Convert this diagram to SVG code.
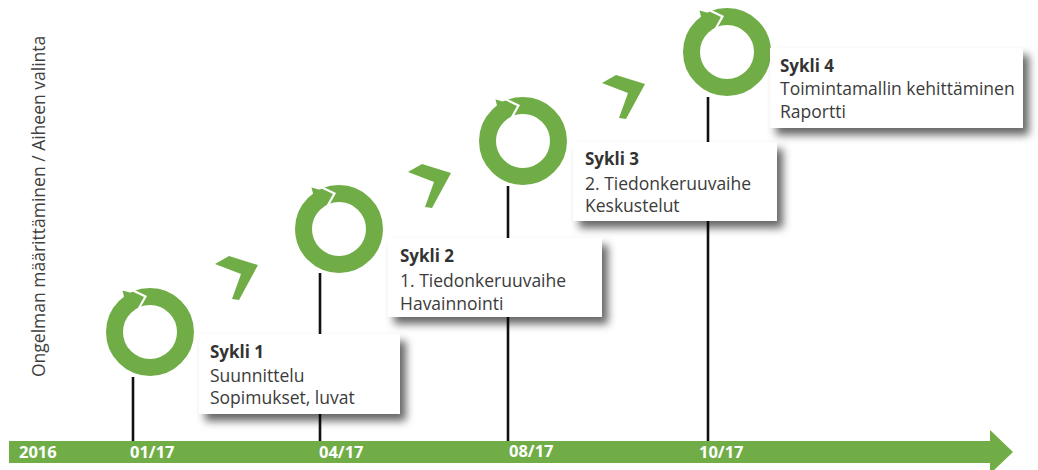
<svg xmlns="http://www.w3.org/2000/svg" xmlns:xlink="http://www.w3.org/1999/xlink" width="1038" height="470" viewBox="0 0 1038 470">
  <style>
    .green { fill: #70AD47; }
    .ring { fill: none; stroke: #70AD47; stroke-width: 17; }
    .cut { fill: none; stroke: #ffffff; stroke-width: 2.2; stroke-linejoin: miter; }
    .stem { stroke: #111111; stroke-width: 2.6; fill: none; }
    .box { fill: #ffffff; filter: url(#shadow); }
    .t { font-family: "Open Sans", "Liberation Sans", sans-serif; font-size: 17.5px; fill: #3b3b3b; }
    .tb { font-family: "Open Sans", "Liberation Sans", sans-serif; font-size: 17px; font-weight: bold; fill: #333333; }
    .bar { font-family: "Open Sans", "Liberation Sans", sans-serif; font-size: 16.5px; font-weight: bold; fill: #ffffff; }
    .side { font-family: "Open Sans", "Liberation Sans", sans-serif; font-size: 17.5px; fill: #404040; }
  </style>
  <defs>
    <filter id="shadow" x="-10%" y="-20%" width="130%" height="170%">
      <feDropShadow dx="6" dy="7" stdDeviation="4.5" flood-color="#000000" flood-opacity="0.6"/>
    </filter>
    <g id="cyc">
      <circle class="ring" cx="0" cy="0" r="35.5"/>
      <polygon class="green" points="-27.5,-41.5 -4.9,-35.2 -24.4,-29.1"/>
      <polyline class="cut" points="-19,-42.5 -4.5,-35.5 -11.5,-23"/>
    </g>
    <polygon id="chev" points="0,0 14,-8 43,1 24,36 17,35 26,10"/>
  </defs>

  <rect width="1038" height="470" fill="#ffffff"/>

  <!-- side label -->
  <text class="side" transform="translate(45,377) rotate(-90)">Ongelman määrittäminen / Aiheen valinta</text>

  <!-- connectors: stems from cycles to the timeline -->
  <g id="connectors">
    <line class="stem" x1="133" y1="377" x2="133" y2="441"/>
    <line class="stem" x1="320" y1="273" x2="320" y2="441"/>
    <line class="stem" x1="508" y1="186" x2="508" y2="441"/>
    <line class="stem" x1="708" y1="97" x2="708" y2="441"/>
  </g>

  <!-- timeline -->
  <g id="timeline">
    <polygon class="green" points="9,441 990,441 990,430 1013,452 990,474 990,463 9,463"/>
    <text class="bar" x="19" y="458">2016</text>
    <text class="bar" x="130" y="458">01/17</text>
    <text class="bar" x="319" y="458">04/17</text>
    <text class="bar" x="509" y="457">08/17</text>
    <text class="bar" x="699" y="458">10/17</text>
  </g>

  <!-- chevrons -->
  <g id="chevron1"><use xlink:href="#chev" href="#chev" class="green" transform="translate(215,264)"/></g>
  <g id="chevron2"><use xlink:href="#chev" href="#chev" class="green" transform="translate(408,172)"/></g>
  <g id="chevron3"><use xlink:href="#chev" href="#chev" class="green" transform="translate(602,83)"/></g>

  <!-- cycle 1 -->
  <g id="sykli1">
    <use xlink:href="#cyc" href="#cyc" transform="translate(150,332)"/>
    <rect class="box" x="199" y="334" width="201" height="80"/>
    <text class="tb" x="210" y="358">Sykli 1</text>
    <text class="t" x="210" y="382">Suunnittelu</text>
    <text class="t" x="210" y="404">Sopimukset, luvat</text>
  </g>

  <!-- cycle 2 -->
  <g id="sykli2">
    <use xlink:href="#cyc" href="#cyc" transform="translate(339,229)"/>
    <rect class="box" x="388" y="238" width="214" height="79"/>
    <text class="tb" x="400" y="262">Sykli 2</text>
    <text class="t" x="400" y="287">1. Tiedonkeruuvaihe</text>
    <text class="t" x="400" y="310">Havainnointi</text>
  </g>

  <!-- cycle 3 -->
  <g id="sykli3">
    <use xlink:href="#cyc" href="#cyc" transform="translate(523,141)"/>
    <rect class="box" x="573" y="142" width="204" height="79"/>
    <text class="tb" x="585" y="165">Sykli 3</text>
    <text class="t" x="585" y="190">2. Tiedonkeruuvaihe</text>
    <text class="t" x="585" y="212">Keskustelut</text>
  </g>

  <!-- cycle 4 -->
  <g id="sykli4">
    <use xlink:href="#cyc" href="#cyc" transform="translate(727,52)"/>
    <rect class="box" x="770" y="48" width="253" height="80"/>
    <text class="tb" x="780" y="72">Sykli 4</text>
    <text class="t" x="780" y="95">Toimintamallin kehittäminen</text>
    <text class="t" x="780" y="118">Raportti</text>
  </g>
</svg>
